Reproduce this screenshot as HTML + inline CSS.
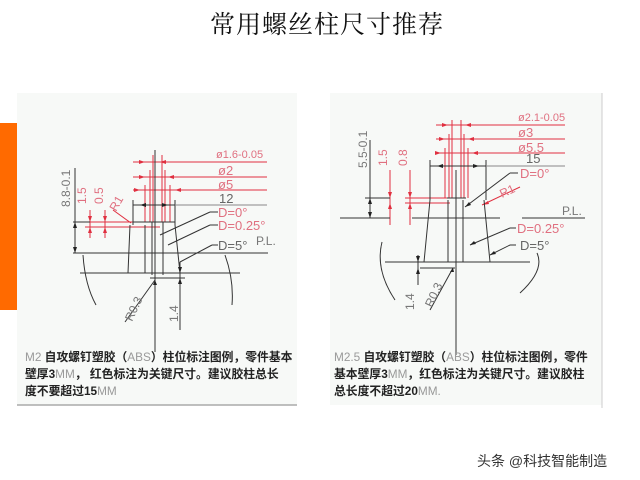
<!DOCTYPE html>
<html><head><meta charset="utf-8"><style>
html,body{margin:0;padding:0;background:#fff;}
body{width:640px;height:480px;position:relative;overflow:hidden;font-family:"Liberation Sans","Noto Sans CJK SC",sans-serif;}
.t{position:absolute;}
.cap{position:absolute;font-family:"Liberation Sans","Noto Sans CJK SC",sans-serif;font-weight:bold;font-size:11.8px;line-height:17px;color:#222;white-space:nowrap;}
.g{color:#999;font-weight:normal;}
</style></head><body>
<div class="t" style="left:210px;top:5px;font-family:'Liberation Serif','Noto Serif CJK SC',serif;font-size:25px;color:#111;letter-spacing:1px;">常用螺丝柱尺寸推荐</div>
<div class="t" style="left:0;top:123px;width:17px;height:187px;background:#ff6a00;"></div>
<svg class="t" style="left:0;top:0" width="640" height="480" xmlns="http://www.w3.org/2000/svg">
<rect x="17" y="93" width="280" height="312" fill="#f7f9f7"/>
<line x1="17" y1="405" x2="297" y2="405" stroke="#aaa" stroke-width="1.5"/>
<rect x="330" y="93" width="272" height="312" fill="#f7f9f7"/>
<line x1="602" y1="93" x2="602" y2="408" stroke="#ccc"/>
<g stroke="#e03040" stroke-width="1" fill="none">
<line x1="133" y1="162" x2="267" y2="162"/><line x1="133" y1="177" x2="267" y2="177"/><line x1="133" y1="190" x2="267" y2="190"/>
<line x1="153" y1="155" x2="153" y2="222"/><line x1="162" y1="155" x2="162" y2="222"/><line x1="150" y1="170" x2="150" y2="222"/><line x1="165" y1="170" x2="165" y2="222"/><line x1="145" y1="185" x2="145" y2="222"/><line x1="170" y1="185" x2="170" y2="222"/>
<line x1="90" y1="210" x2="90" y2="238"/><line x1="105" y1="210" x2="105" y2="238"/>
<line x1="85" y1="222" x2="160" y2="222"/><line x1="85" y1="227" x2="160" y2="227"/>
<line x1="113" y1="210" x2="131" y2="223"/>
<line x1="436" y1="125" x2="565" y2="125"/><line x1="436" y1="139" x2="565" y2="139"/><line x1="436" y1="153" x2="565" y2="153"/>
<line x1="452" y1="120" x2="452" y2="198"/><line x1="461" y1="120" x2="461" y2="198"/><line x1="449" y1="134" x2="449" y2="198"/><line x1="464" y1="134" x2="464" y2="198"/><line x1="445" y1="148" x2="445" y2="198"/><line x1="468" y1="148" x2="468" y2="198"/>
<line x1="390" y1="170" x2="390" y2="225"/><line x1="410" y1="170" x2="410" y2="225"/>
<line x1="405" y1="198" x2="450" y2="198"/><line x1="405" y1="203" x2="450" y2="203"/>
<line x1="482" y1="205" x2="520" y2="187"/>
</g>
<g fill="#e03040">
<path d="M145 162l-6-2v4z M160 162l6-2v4z M145 177l-6-2v4z M168 177l6-2v4z M140 190l-6-2v4z M175 190l6-2v4z"/>
<path d="M90 222l-2-6h4z M90 227l-2 6h4z M105 222l-2-6h4z M105 227l-2 6h4z"/>
<path d="M448 125l-6-2v4z M465 125l6-2v4z M445 139l-6-2v4z M468 139l6-2v4z M441 153l-6-2v4z M472 153l6-2v4z"/>
<path d="M390 198l-2-6h4z M390 203l-2 6h4z M410 198l-2-6h4z M410 203l-2 6h4z M482 205l6-4 1 3z"/>
</g>
<g stroke="#333" stroke-width="1" fill="none">
<line x1="133" y1="200" x2="133" y2="225"/><line x1="175" y1="200" x2="175" y2="225"/><line x1="133" y1="205" x2="175" y2="205"/><line x1="175" y1="205" x2="267" y2="205" stroke="#888"/>
<line x1="75" y1="168" x2="75" y2="253"/>
<line x1="73" y1="222" x2="90" y2="222"/><line x1="73" y1="253" x2="268" y2="253"/>
<path d="M130 225L128 273M145 225V273M152 222V275M163 222V275M175 225L180 273M133 222H175"/>
<line x1="80" y1="273" x2="240" y2="273"/><line x1="150" y1="278" x2="185" y2="278"/>
<path d="M83 255Q85 285 96 305M225 255Q234 280 232 305"/>
<line x1="155" y1="280" x2="125" y2="322"/><line x1="155" y1="150" x2="155" y2="352"/>
<line x1="180" y1="262" x2="180" y2="330"/>
<line x1="160" y1="235" x2="210" y2="212"/><line x1="210" y1="212" x2="218" y2="212"/>
<line x1="168" y1="245" x2="210" y2="225"/><line x1="210" y1="225" x2="218" y2="225"/>
<line x1="180" y1="262" x2="212" y2="245"/><line x1="212" y1="245" x2="218" y2="245"/>
<line x1="430" y1="160" x2="430" y2="200"/><line x1="486" y1="160" x2="486" y2="200"/><line x1="430" y1="166" x2="486" y2="166"/><line x1="486" y1="166" x2="565" y2="166" stroke="#888"/>
<line x1="370" y1="140" x2="370" y2="218"/><line x1="365" y1="198" x2="390" y2="198"/>
<path d="M340 218H390M412 218H500M522 218H585"/>
<path d="M430 200L424 262M448 200V262M463 200V262M484 200L490 262M447 198H466"/>
<line x1="385" y1="262" x2="530" y2="262"/><line x1="420" y1="268" x2="455" y2="268"/>
<path d="M382 242Q375 270 395 300M537 253Q545 270 520 293"/>
<line x1="453" y1="268" x2="430" y2="310"/><line x1="456" y1="170" x2="456" y2="355"/>
<line x1="418" y1="255" x2="418" y2="285"/>
<line x1="465" y1="207" x2="510" y2="173"/><line x1="510" y1="173" x2="518" y2="173"/>
<line x1="470" y1="245" x2="510" y2="228"/><line x1="510" y1="228" x2="516" y2="228"/>
<line x1="490" y1="255" x2="510" y2="245"/><line x1="510" y1="245" x2="516" y2="245"/>
</g>
<g fill="#222">
<path d="M140 205l6-2v4z M168 205l-6-2v4z M75 222l-2 6h4z M75 253l-2-6h4z M180 273l-2-6h4z M180 278l-2 6h4z M155 280l-2 5 4 0z"/>
<path d="M437 166l6-2v4z M479 166l-6-2v4z M370 198l-2 6h4z M370 218l-2-6h4z M418 262l-2-6h4z M418 268l-2 6h4z M453 268l-3 4 4 0z M465 207l4-5 2 3z M470 245l4-4 2 3z M490 255l4-4 2 3z"/>
</g>
<g font-family="Liberation Sans, sans-serif" font-size="12" fill="#888">
<text x="216" y="158" fill="#e07080" font-size="11">ø1.6-0.05</text>
<text x="218" y="175" fill="#e07080" font-size="13">ø2</text>
<text x="218" y="189" fill="#e07080" font-size="13">ø5</text>
<text x="219" y="203" fill="#666" font-size="13">12</text>
<text x="218" y="217" fill="#e07080" font-size="13">D=0°</text>
<text x="218" y="230" fill="#e07080" font-size="13">D=0.25°</text>
<text x="218" y="250" fill="#666" font-size="13">D=5°</text>
<text x="256" y="245" fill="#777" font-size="12">P.L.</text>
<text transform="translate(70,207) rotate(-90)" fill="#777" font-size="12">8.8-0.1</text>
<text transform="translate(86,204) rotate(-90)" fill="#e07080" font-size="12">1.5</text>
<text transform="translate(103,204) rotate(-90)" fill="#e07080" font-size="12">0.5</text>
<text transform="translate(116,212) rotate(-60)" fill="#e07080" font-size="12">R1</text>
<text transform="translate(132,322) rotate(-65)" fill="#777" font-size="12">R0.3</text>
<text transform="translate(178,322) rotate(-90)" fill="#777" font-size="12">1.4</text>
<text x="518" y="121" fill="#e07080" font-size="11">ø2.1-0.05</text>
<text x="518" y="137" fill="#e07080" font-size="13">ø3</text>
<text x="518" y="152" fill="#e07080" font-size="13">ø5.5</text>
<text x="526" y="163" fill="#666" font-size="13">15</text>
<text x="520" y="178" fill="#e07080" font-size="13">D=0°</text>
<text transform="translate(502,198) rotate(-25)" fill="#e07080" font-size="12">R1</text>
<text x="562" y="215" fill="#777" font-size="12">P.L.</text>
<text x="517" y="233" fill="#e07080" font-size="13">D=0.25°</text>
<text x="520" y="250" fill="#666" font-size="13">D=5°</text>
<text transform="translate(367,168) rotate(-90)" fill="#777" font-size="12">5.5-0.1</text>
<text transform="translate(387,166) rotate(-90)" fill="#e07080" font-size="12">1.5</text>
<text transform="translate(407,166) rotate(-90)" fill="#e07080" font-size="12">0.8</text>
<text transform="translate(432,308) rotate(-65)" fill="#777" font-size="12">R0.3</text>
<text transform="translate(414,310) rotate(-90)" fill="#777" font-size="12">1.4</text>
</g>
</svg>
<div class="cap" style="left:25px;top:349px;">
<span class="g">M2</span> 自攻螺钉塑胶（<span class="g">ABS</span>）柱位标注图例，零件基本<br>壁厚3<span class="g">MM</span>， 红色标注为关键尺寸。建议胶柱总长<br>度不要超过15<span class="g">MM</span></div>
<div class="cap" style="left:334px;top:349px;">
<span class="g">M2.5</span> 自攻螺钉塑胶（<span class="g">ABS</span>）柱位标注图例，零件<br>基本壁厚3<span class="g">MM</span>，红色标注为关键尺寸。建议胶柱<br>总长度不超过20<span class="g">MM.</span></div>
<div class="t" style="left:477px;top:451px;font-size:14px;color:#333;font-family:'Liberation Sans','Noto Sans CJK SC',sans-serif;">头条 @科技智能制造</div>
</body></html>
